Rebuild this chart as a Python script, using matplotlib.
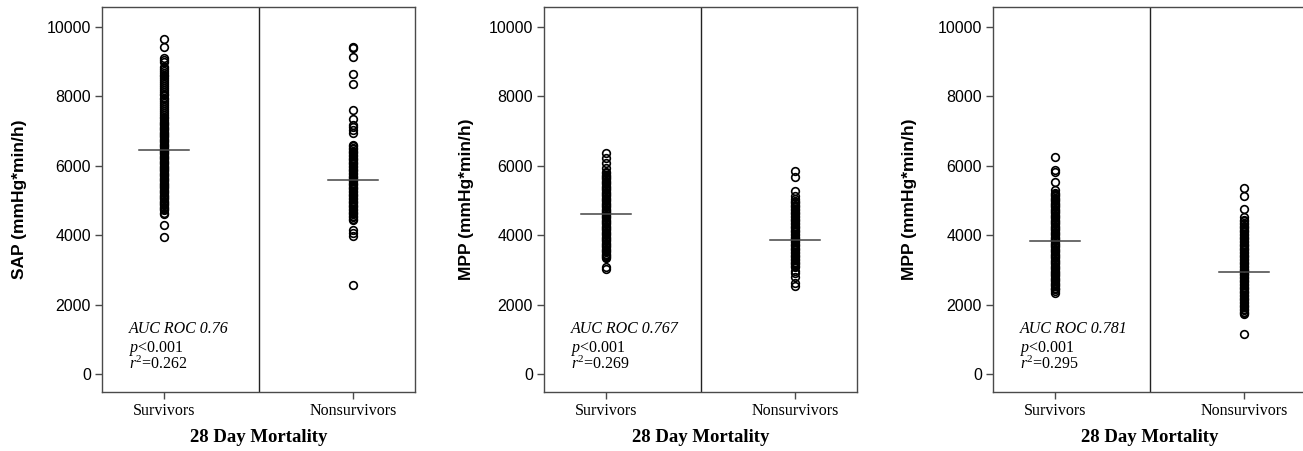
import matplotlib
matplotlib.use("Agg")
import matplotlib.pyplot as plt

plt.rcParams["mathtext.fontset"] = "custom"
plt.rcParams["mathtext.rm"] = "Liberation Serif"
plt.rcParams["mathtext.it"] = "Liberation Serif:italic"

# values (mmHg*min/h); dense columns are estimated point by point
sap_surv = [9670, 9430, 9120, 9050, 8980, 8860, 8790,
            8740, 8690, 8630, 8580, 8520, 8470, 8410, 8360, 8300, 8250, 8190,
            8140, 8080, 8030, 7970, 7920, 7860, 7810, 7750, 7700, 7640, 7590,
            7530, 7480, 7420, 7370, 7310,
            7270, 7240, 7200, 7170, 7130, 7100, 7060, 7030, 6990, 6960, 6920,
            6890, 6850, 6820, 6780, 6750, 6710, 6680, 6640, 6610, 6570, 6540,
            6500, 6470, 6430, 6400, 6360, 6330, 6290, 6260, 6220, 6190, 6150,
            6120, 6080, 6050, 6010, 5980, 5940, 5910, 5870, 5840, 5800, 5770,
            5730, 5700, 5660, 5630, 5590, 5560, 5520, 5490, 5450, 5420, 5380,
            5350, 5310, 5280, 5240, 5210, 5170, 5140, 5100, 5070, 5030, 5000,
            4960, 4930, 4890, 4860, 4820, 4790, 4750, 4720,
            4650, 4610, 4290, 3950]
sap_nonsurv = [9430, 9390, 9130, 8640, 8360, 7610, 7360, 7190, 7120, 7040, 6960,
               6600, 6560, 6520, 6480, 6440, 6400, 6360, 6320, 6280, 6240, 6200,
               6160, 6120, 6080, 6040, 6000, 5960, 5920, 5880, 5840, 5800, 5760,
               5720, 5680, 5640, 5600, 5560, 5520, 5480, 5440, 5400, 5360, 5320,
               5280, 5240, 5200, 5160, 5120, 5080, 5040, 5000, 4960, 4920, 4880,
               4840, 4800, 4760, 4720, 4680, 4640, 4600, 4560, 4520, 4480, 4440,
               4140, 4050, 3970, 2560]
mpp1_surv = [6370, 6225, 6080, 5940,
             5820, 5780, 5750, 5710, 5680, 5640, 5610, 5570, 5540, 5500, 5470,
             5430, 5400, 5360, 5330, 5290, 5260, 5220, 5190, 5150, 5120, 5080,
             5050, 5010, 4980, 4940, 4910, 4870, 4840, 4800, 4770, 4730, 4700,
             4660, 4630, 4590, 4560, 4520, 4490, 4450, 4420, 4380, 4350, 4310,
             4280, 4240, 4210, 4170, 4140, 4100, 4070, 4030, 4000, 3960, 3930,
             3890, 3860, 3820, 3790, 3750, 3720, 3680, 3650, 3610, 3580, 3540,
             3510, 3470, 3440, 3400, 3370, 3340,
             3080, 3020]
mpp1_nonsurv = [5850, 5690, 5280, 5120,
                5040, 5000, 4960, 4920, 4880, 4840, 4800, 4760, 4720, 4680, 4640,
                4600, 4560, 4520, 4480, 4440, 4400, 4360, 4320, 4280, 4240, 4200,
                4160, 4120, 4080, 4040, 4000, 3960, 3920, 3880, 3840, 3800, 3760,
                3720, 3680, 3640, 3600, 3560, 3520, 3480, 3440, 3400, 3360, 3320,
                3280, 3240, 3200, 3160, 3120, 3090,
                2980, 2900, 2800, 2620, 2540]
mpp2_surv = [6260, 5880, 5830, 5540, 5300,
             5220, 5190, 5150, 5120, 5080, 5050, 5010, 4980, 4940, 4910, 4870,
             4840, 4800, 4770, 4730, 4700, 4660, 4630, 4590, 4560, 4520, 4490,
             4450, 4420, 4380, 4350, 4310, 4280, 4240, 4210, 4170, 4140, 4100,
             4070, 4030, 4000, 3960, 3930, 3890, 3860, 3820, 3790, 3750, 3720,
             3680, 3650, 3610, 3580, 3540, 3510, 3470, 3440, 3400, 3370, 3330,
             3300, 3260, 3230, 3190, 3160, 3120, 3090, 3050, 3020, 2980, 2950,
             2910, 2880, 2840, 2810, 2770, 2740, 2700, 2670, 2630, 2600, 2560,
             2530, 2490, 2460, 2440,
             2400, 2320]
mpp2_nonsurv = [5350, 5130, 4770, 4530,
                4440, 4400, 4360, 4320, 4280, 4240, 4200, 4160, 4120, 4080, 4040,
                4000, 3960, 3920, 3880, 3840, 3800, 3760, 3720, 3680, 3640, 3600,
                3560, 3520, 3480, 3440, 3400, 3360, 3320, 3280, 3240, 3200, 3160,
                3120, 3080, 3040, 3000, 2960, 2920, 2880, 2840, 2800, 2760, 2720,
                2680, 2640, 2600, 2560, 2520, 2480, 2440, 2400, 2360, 2320, 2280,
                2240, 2200, 2160, 2120, 2080, 2040, 2000, 1960, 1920, 1880, 1840,
                1800, 1760,
                1720, 1160]

means = [(6450, 5600), (4620, 3860), (3820, 2930)]
ylabels = ["SAP (mmHg*min/h)", "MPP (mmHg*min/h)", "MPP (mmHg*min/h)"]
auc = ["0.76", "0.767", "0.781"]
r2 = ["0.262", "0.269", "0.295"]
groups = ["Survivors", "Nonsurvivors"]
yticks = [0, 2000, 4000, 6000, 8000, 10000]

panels = [(sap_surv, sap_nonsurv), (mpp1_surv, mpp1_nonsurv), (mpp2_surv, mpp2_nonsurv)]
lefts = [102, 544, 993]
label_x = [-0.24, -0.224, -0.243]

W, H = 1303, 451
fig = plt.figure(figsize=(W / 100, H / 100), dpi=100)

sans = "Liberation Sans"
serif = "Liberation Serif"
spine_col = "#4a4a4a"

for i, (surv, nonsurv) in enumerate(panels):
    ax = fig.add_axes([lefts[i] / W, 1 - 392 / H, 313 / W, 385 / H])
    ax.plot([1] * len(surv), surv, "o", ms=5.5, mfc="none", mec="black", mew=1.2)
    ax.plot([2] * len(nonsurv), nonsurv, "o", ms=5.5, mfc="none", mec="black", mew=1.2)
    for x, m in zip([1, 2], means[i]):
        ax.plot([x - 0.13, x + 0.13], [m, m], color="#444444", lw=1.1)
    ax.axvline(1.5, color="#222222", lw=1.0)

    ax.set_xlim(0.672, 2.328)
    ax.set_ylim(-520, 10580)
    ax.set_xticks([1, 2])
    ax.set_xticklabels(groups, fontfamily=serif, fontsize=11.5)
    ax.set_yticks(yticks)
    ax.set_yticklabels([str(t) for t in yticks], fontfamily=sans, fontsize=11.5)
    ax.tick_params(direction="out", length=5, width=1, color=spine_col, pad=3)
    for s in ax.spines.values():
        s.set_color(spine_col)
        s.set_linewidth(1.0)

    ax.set_ylabel(ylabels[i], fontfamily=sans, fontsize=12.5, fontweight="bold")
    ax.yaxis.set_label_coords(label_x[i], 0.5)
    ax.set_xlabel("28 Day Mortality", fontfamily=serif, fontsize=13.5, fontweight="bold")
    ax.xaxis.set_label_coords(0.5, -0.097)

    tx = 0.815
    ax.text(tx, 1180, "AUC ROC " + auc[i], fontfamily=serif, fontstyle="italic",
            fontsize=11.5, va="baseline")
    ax.text(tx, 630, r"$p$<0.001", fontfamily=serif, fontsize=11.5, va="baseline")
    ax.text(tx, 140, r"$r^{\mathrm{2}}$=" + r2[i], fontfamily=serif, fontsize=11.5,
            va="baseline")

fig.savefig("out.png", dpi=100)
